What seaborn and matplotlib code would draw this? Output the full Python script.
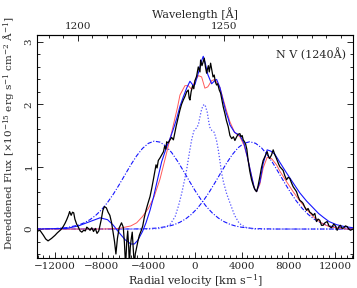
"""
N V (1240A) emission line profile with the fitted components.
"""

import numpy as np
import pandas as pd
import matplotlib
matplotlib.use("Agg")
import matplotlib.pyplot as plt
from matplotlib.ticker import MultipleLocator, FixedLocator
import seaborn as sns

# ---- observed spectrum (black) ----
obs_vel = [-13600, -13300, -13000, -12800, -12600, -12300, -12000, -11800, -11500, -11300,
           -11150, -11000, -10850, -10750, -10620, -10500, -10400, -10300, -10150, -10000,
           -9850, -9700, -9550, -9400, -9280, -9150, -9000, -8850, -8700, -8550,
           -8400, -8250, -8050, -7900, -7765, -7600, -7450, -7300, -7150, -7000,
           -6900, -6780, -6650, -6500, -6420, -6300, -6150, -6050, -5950, -5850,
           -5767, -5680, -5624, -5550, -5480, -5380, -5300, -5200, -5120, -5050,
           -4900, -4768, -4600, -4480, -4350, -4200, -4050, -3855, -3700, -3570,
           -3450, -3340, -3250, -3143, -3000, -2855, -2700, -2600, -2500, -2425,
           -2300, -2141, -2000, -1850, -1713, -1600, -1430, -1300, -1150, -1000,
           -850, -714, -574, -500, -428, -330, -200, -100, 0, 140,
           285, 428, 485, 600, 700, 800, 900, 1000, 1054, 1150,
           1228, 1342, 1450, 1550, 1650, 1750, 1857, 1950, 2085, 2200,
           2284, 2426, 2570, 2700, 2855, 3000, 3150, 3300, 3426, 3550,
           3700, 3855, 3950, 4050, 4140, 4250, 4350, 4450, 4550, 4700,
           4856, 5000, 5150, 5285, 5400, 5567, 5700, 5850, 5996, 6193,
           6300, 6400, 6570, 6710, 6852, 6950, 7050, 7180, 7280, 7420,
           7565, 7700, 7854, 8000, 8137, 8280, 8420, 8560, 8709, 8850,
           8994, 9140, 9280, 9420, 9567, 9700, 9850, 10000, 10137, 10280,
           10423, 10560, 10709, 10850, 10994, 11150, 11340, 11500, 11700, 11910,
           12050, 12195, 12350, 12480, 12620, 12770, 12900, 13050, 13200, 13340,
           13560]
obs_flux = [-0.04, -0.02, -0.10, -0.16, -0.19, -0.15, -0.10, -0.06, -0.01, 0.04,
            0.09, 0.15, 0.22, 0.28, 0.22, 0.27, 0.26, 0.16, 0.08, 0.03,
            -0.03, -0.05, -0.02, -0.03, 0.03, 0.01, -0.02, 0.02, -0.04, 0.01,
            -0.07, -0.03, 0.14, 0.30, 0.36, 0.34, 0.27, 0.22, 0.10, -0.08,
            -0.20, -0.40, -0.15, 0.02, 0.05, 0.10, 0.03, -0.22, -0.60, -0.20,
            -0.03, -0.30, -0.60, -0.30, -0.18, -0.05, -0.30, -0.60, -0.40, -0.34,
            -0.20, -0.10, -0.02, 0.05, 0.18, 0.30, 0.40, 0.52, 0.66, 0.79,
            0.92, 1.03, 0.98, 1.10, 1.14, 1.19, 1.24, 1.33, 1.28, 1.40,
            1.38, 1.43, 1.47, 1.43, 1.56, 1.66, 1.80, 1.90, 2.00, 2.07,
            2.13, 2.20, 2.23, 2.10, 2.07, 2.20, 2.30, 2.25, 2.38, 2.45,
            2.60, 2.52, 2.71, 2.62, 2.68, 2.74, 2.60, 2.50, 2.55, 2.62,
            2.52, 2.66, 2.55, 2.44, 2.47, 2.36, 2.31, 2.33, 2.23, 2.18,
            2.10, 1.96, 1.85, 1.74, 1.64, 1.50, 1.45, 1.48, 1.42, 1.47,
            1.52, 1.53, 1.48, 1.50, 1.43, 1.40, 1.36, 1.28, 1.12, 0.93,
            0.79, 0.70, 0.63, 0.60, 0.68, 0.84, 0.98, 1.10, 1.16, 1.24,
            1.17, 1.13, 1.19, 1.27, 1.19, 1.15, 1.10, 1.04, 1.00, 0.97,
            0.94, 0.86, 0.79, 0.83, 0.81, 0.74, 0.68, 0.64, 0.60, 0.52,
            0.46, 0.44, 0.41, 0.35, 0.30, 0.33, 0.27, 0.25, 0.22, 0.25,
            0.12, 0.16, 0.14, 0.06, 0.06, 0.10, 0.12, 0.05, 0.02, 0.08,
            0.05, -0.02, 0.04, 0.06, 0.01, 0.02, 0.05, 0.04, 0.00, -0.02,
            0.00]

# ---- model 1 (red) ----
red_vel = [-13600, -8000, -7000, -6500, -6000, -5500, -5000, -4500, -4000, -3500,
           -3000, -2500, -2000, -1500, -1285, -857, -571, -283, 0, 300,
           571, 850, 1100, 1430, 1713, 2141, 2426, 2700, 3000, 3400,
           3855, 4200, 4500, 4856, 5100, 5285, 5567, 5850, 6193, 6570,
           7000, 7280, 7854, 8420, 8994, 9567, 10137, 10600, 11000, 11500,
           12100, 13000, 13600]
red_flux = [0.0, 0.0, 0.005, 0.01, 0.03, 0.05, 0.10, 0.20, 0.33, 0.52,
            0.80, 1.17, 1.55, 1.95, 2.15, 2.30, 2.30, 2.24, 2.38, 2.46,
            2.44, 2.26, 2.28, 2.38, 2.40, 2.27, 2.08, 1.90, 1.72, 1.55,
            1.48, 1.35, 1.15, 0.85, 0.65, 0.60, 0.72, 0.98, 1.15, 1.13,
            1.03, 0.93, 0.76, 0.60, 0.45, 0.32, 0.20, 0.13, 0.08, 0.04,
            0.02, 0.0, 0.0]

# ---- model 2 (blue, solid) ----
blue_vel = [-13600, -11000, -10000, -9000, -8140, -7500, -7000, -6500, -6000, -5500,
            -5200, -4900, -4500, -4200, -3855, -3570, -3143, -2855, -2425, -2141,
            -1858, -1570, -1285, -1000, -714, -428, -143, 0, 285, 571,
            711, 900, 1100, 1430, 1700, 1858, 2141, 2426, 2700, 2855,
            3000, 3400, 3855, 4200, 4500, 4856, 5100, 5285, 5567, 5850,
            6193, 6500, 6852, 7280, 7854, 8420, 8994, 9567, 10137, 10600,
            11000, 11500, 12137, 12800, 13600]
blue_flux = [0.0, 0.01, 0.05, 0.12, 0.18, 0.15, 0.06, -0.06, -0.17, -0.24,
             -0.24, -0.18, -0.04, 0.10, 0.30, 0.50, 0.85, 1.08, 1.32, 1.45,
             1.60, 1.77, 1.97, 2.12, 2.26, 2.37, 2.30, 2.32, 2.50, 2.70,
             2.77, 2.65, 2.48, 2.33, 2.38, 2.40, 2.27, 2.05, 1.85, 1.77,
             1.67, 1.55, 1.50, 1.38, 1.15, 0.85, 0.65, 0.60, 0.75, 1.05,
             1.27, 1.25, 1.20, 1.07, 0.90, 0.74, 0.58, 0.45, 0.34, 0.25,
             0.19, 0.12, 0.07, 0.04, 0.02]

# ---- broad component, blue side (dash-dot) ----
broad1_vel = [-13600, -12000, -11000, -10000, -9500, -9000, -8500, -8000, -7500, -7000,
              -6500, -6000, -5500, -5000, -4500, -4000, -3500, -3000, -2500, -2000,
              -1500, -1000, -500, 0, 500, 1000, 1500, 2000, 2500, 3000,
              3500, 4000, 5000, 6000, 7000, 13600]
broad1_flux = [0.001, 0.007, 0.023, 0.063, 0.10, 0.151, 0.221, 0.312, 0.426, 0.56,
               0.711, 0.871, 1.03, 1.175, 1.293, 1.374, 1.41, 1.394, 1.331, 1.227,
               1.09, 0.936, 0.775, 0.619, 0.477, 0.355, 0.255, 0.177, 0.118, 0.076,
               0.047, 0.029, 0.009, 0.003, 0.0, 0.0]

# ---- broad component, red side (dash-dot) ----
broad2_vel = [-13600, -5300, -4300, -3300, -2300, -1800, -1300, -800, -300, 200,
              700, 1200, 1700, 2200, 2700, 3200, 3700, 4200, 4700, 5200,
              5700, 6200, 6700, 7200, 7700, 8200, 8700, 9200, 9700, 10200,
              10700, 11200, 11700, 12700, 13600]
broad2_flux = [0.0, 0.001, 0.004, 0.015, 0.043, 0.069, 0.108, 0.162, 0.236, 0.331,
               0.448, 0.585, 0.738, 0.897, 1.053, 1.193, 1.304, 1.375, 1.40, 1.375,
               1.304, 1.193, 1.053, 0.897, 0.738, 0.585, 0.448, 0.331, 0.236, 0.162,
               0.108, 0.069, 0.043, 0.015, 0.005]

# ---- narrow component (dotted) ----
narrow_vel = [-13600, -4000, -3000, -2600, -2141, -1700, -1400, -1140, -900, -714,
              -500, -286, -100, 0, 150, 300, 450, 571, 700, 800,
              900, 1057, 1200, 1285, 1450, 1656, 1850, 2000, 2150, 2284,
              2450, 2713, 3000, 3400, 3800, 4300, 5000, 13600]
narrow_flux = [0.0, 0.0, 0.01, 0.03, 0.07, 0.20, 0.38, 0.57, 0.78, 0.95,
               1.20, 1.43, 1.57, 1.60, 1.62, 1.68, 1.82, 1.92, 1.98, 2.00,
               1.97, 1.87, 1.70, 1.63, 1.58, 1.55, 1.42, 1.27, 1.08, 0.90,
               0.75, 0.57, 0.42, 0.22, 0.09, 0.03, 0.0, 0.0]

# top axis ticks (Angstrom)
wav_major = [1200, 1250]
wav_minor = list(range(1190, 1295, 5))

# velocity <-> wavelength for the top axis
LAMBDA0 = 1240.09
KMS_PER_ANG = 250.6


def vel_to_wav(v):
    return LAMBDA0 + np.asarray(v) / KMS_PER_ANG


def wav_to_vel(w):
    return (np.asarray(w) - LAMBDA0) * KMS_PER_ANG


sns.set_style("ticks")
plt.rcParams["font.family"] = ["DejaVu Serif"]
plt.rcParams["mathtext.fontset"] = "dejavuserif"

fig = plt.figure(figsize=(3.57, 2.88), dpi=100)
ax = fig.add_axes([0.1036, 0.103, 0.885, 0.775])

blue = "#1414ff"
dashdot = (0, (4, 1.5, 1, 1.5))

sns.lineplot(x=broad1_vel, y=broad1_flux, ax=ax, color=blue, lw=0.8,
             linestyle=dashdot, estimator=None)
sns.lineplot(x=broad2_vel, y=broad2_flux, ax=ax, color=blue, lw=0.8,
             linestyle=dashdot, estimator=None)
sns.lineplot(x=narrow_vel, y=narrow_flux, ax=ax, color="#5050ff", lw=0.9,
             linestyle=(0, (1, 1.5)), estimator=None)
sns.lineplot(x=red_vel, y=red_flux, ax=ax, color="#ff5a5a", lw=0.7,
             estimator=None)
sns.lineplot(x=blue_vel, y=blue_flux, ax=ax, color=blue, lw=0.8,
             estimator=None)
sns.lineplot(x=obs_vel, y=obs_flux, ax=ax, color="black", lw=0.9,
             estimator=None)

ax.set_xlim(-13550, 13550)
ax.set_ylim(-0.47, 3.11)

ax.xaxis.set_major_locator(MultipleLocator(4000))
ax.xaxis.set_minor_locator(MultipleLocator(500))
ax.yaxis.set_major_locator(MultipleLocator(1))
ax.yaxis.set_minor_locator(MultipleLocator(0.2))

ax.tick_params(which="both", direction="in", top=False, right=True,
               labelsize=7.5, width=0.7, pad=2.5)
ax.tick_params(which="major", length=4)
ax.tick_params(which="minor", length=2)
ax.tick_params(axis="y", labelrotation=90)
for lab in ax.get_yticklabels():
    lab.set_va("center")

for sp in ax.spines.values():
    sp.set_linewidth(0.8)
    sp.set_color("black")

ax.set_xlabel(r"Radial velocity [km s$^{-1}$]", fontsize=8, labelpad=1)
ax.set_ylabel(r"Dereddened Flux [$\times$10$^{-15}$ erg s$^{-1}$ cm$^{-2}$ Å$^{-1}$]",
              fontsize=7.5)
ax.yaxis.set_label_coords(-0.064, 0.56)

secax = ax.secondary_xaxis("top", functions=(vel_to_wav, wav_to_vel))
secax.xaxis.set_major_locator(FixedLocator(wav_major))
secax.xaxis.set_minor_locator(FixedLocator(wav_minor))
secax.tick_params(which="both", direction="in", labelsize=7.5, width=0.7, pad=3)
secax.tick_params(which="major", length=4)
secax.tick_params(which="minor", length=2)
secax.spines["top"].set_linewidth(0.8)
secax.set_xlabel("Wavelength [Å]", fontsize=8, labelpad=3)

ax.text(0.978, 0.915, "N V (1240Å)", transform=ax.transAxes, ha="right",
        va="center", fontsize=8)

fig.savefig("out.png", dpi=100)
